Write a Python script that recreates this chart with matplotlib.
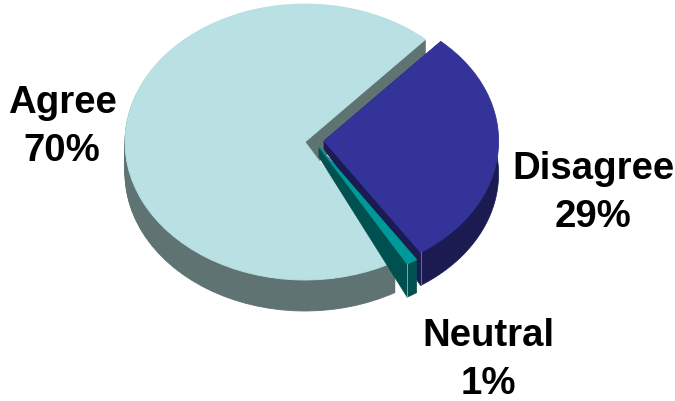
import numpy as np
import matplotlib
matplotlib.use("Agg")
import matplotlib.pyplot as plt

# Valores del gráfico, en el orden en que se recorre la tarta.
categories = ["Agree", "Neutral", "Disagree"]
values = [70, 1, 29]

top_colors = ["#B9E0E3", "#009999", "#333399"]
side_colors = ["#5F7373", "#005050", "#1B1B52"]

# Geometría en píxeles de la imagen.
width, height = 675, 402
cx, cy = 305, 143
rx, ry = 180, 138
depths = [31, 33, 33]
start_angle = 48
offsets = [(0, 0), (14, -5), (19, 1)]
radii = [1, 0.98, 0.97]
apex_depth = [0, 10, 8]
draw_order = [0, 2, 1]

label_pos = [(62, 127), (488, 360), (593, 193)]
corner_colors = {"Neutral": "#7FA8A8", "Disagree": "#6A6AA8"}

fig = plt.figure(figsize=(width / 100, height / 100), dpi=100)
ax = fig.add_axes([0, 0, 1, 1])


def draw_layer(idx, drop, colors):
    wedges, _ = ax.pie(values, colors=colors, startangle=start_angle, counterclock=True,
                       wedgeprops={"linewidth": 0.6, "edgecolor": colors[idx]})
    for i, w in enumerate(wedges):
        if i != idx:
            w.remove()
    dx, dy = offsets[idx]
    wedges[idx].set_center((dx / rx, (dy - drop) / ry))
    wedges[idx].set_radius(radii[idx])
    return wedges[idx]


def rim(theta, idx, drop):
    dx, dy = offsets[idx]
    t = np.radians(theta)
    return radii[idx] * np.cos(t) + dx / rx, radii[idx] * np.sin(t) + (dy - drop) / ry


for idx in draw_order:
    if categories[idx] == "Agree":
        for drop in range(depths[idx], 0, -1):
            draw_layer(idx, drop, side_colors)
        draw_layer(idx, 0, top_colors)
        continue

    # Los sectores separados: la cara lateral se estrecha hacia el vértice.
    top = draw_layer(idx, 0, top_colors)
    t1, t2 = top.theta1, top.theta2
    top.remove()
    dx, dy = offsets[idx]
    arc = np.linspace(t1, t2, 60)
    arc_x, arc_y = rim(arc, idx, depths[idx])
    end_x, end_y = rim(t2, idx, 0)
    xs = [dx / rx, dx / rx, *arc_x, end_x]
    ys = [dy / ry, (dy - apex_depth[idx]) / ry, *arc_y, end_y]
    ax.fill(xs, ys, color=side_colors[idx], lw=0.5)
    draw_layer(idx, 0, top_colors)
    ax.plot(*zip(rim(t1, idx, 0), rim(t1, idx, depths[idx])), color=corner_colors[categories[idx]], lw=0.7)

ax.set_aspect("auto")
ax.set_xlim(-cx / rx, (width - cx) / rx)
ax.set_ylim(-(height - cy) / ry, cy / ry)
ax.axis("off")

for cat, val, (x, y) in zip(categories, values, label_pos):
    fig.text(x / width, 1 - y / height, f"{cat}\n{val}%", ha="center", va="center", ma="center",
             family="Liberation Sans", weight="bold", fontsize=27.6, color="black", linespacing=1.42)

fig.savefig("out.png", dpi=100)
